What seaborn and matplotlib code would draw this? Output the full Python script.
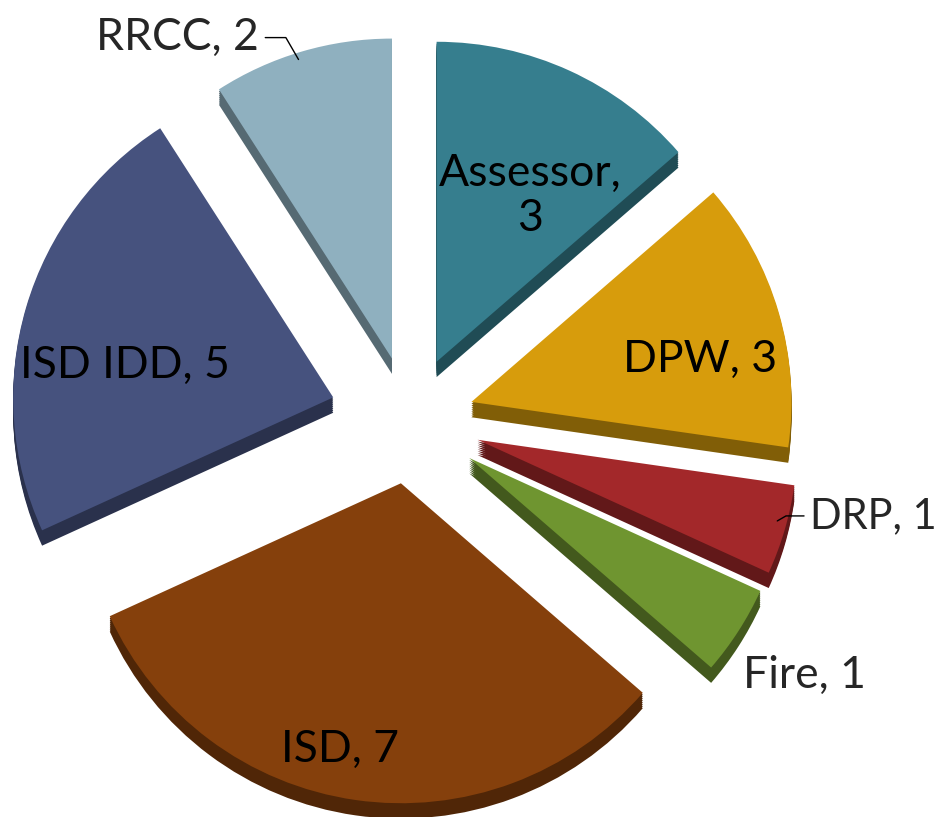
import numpy as np
import matplotlib
matplotlib.use('Agg')
import matplotlib.pyplot as plt
import matplotlib.colors as mcolors
import seaborn as sns

# Data
departments = ['Assessor', 'DPW', 'DRP', 'Fire', 'ISD', 'ISD IDD', 'RRCC']
counts = [3, 3, 1, 1, 7, 5, 2]
colors = ['#367e8e', '#d79c0c', '#a3282a', '#6f9530', '#85400c', '#46527e', '#8fb0bf']
label_text = ['Assessor,\n3', 'DPW, 3', 'DRP, 1', 'Fire, 1', 'ISD, 7', 'ISD IDD, 5', 'RRCC, 2']

sns.set_theme(style='white')
plt.rcParams['font.family'] = ['Lato', 'DejaVu Sans']

fig = plt.figure(figsize=(9.49, 8.17), dpi=100)
ax = fig.add_axes([0, 0, 1, 1])

explode = [0.2, 0.2, 0.22, 0.22, 0.2, 0.25, 0.2]

def darker(c, f=0.6):
    r, g, b = mcolors.to_rgb(c)
    return (r * f, g * f, b * f)

# side of the 3D pie: a darker copy pushed down a little
for k in range(1, 9):
    ax.pie(counts, colors=[darker(c) for c in colors], explode=explode,
           startangle=90, counterclock=False, radius=1,
           center=(0, -0.006 * k), wedgeprops=dict(linewidth=0))

wedges, _ = ax.pie(counts, colors=colors, explode=explode, startangle=90,
                   counterclock=False, radius=1,
                   wedgeprops=dict(linewidth=0))

fs = 32
# labels inside the slices
inside = {0: (0.375, 0.70), 1: (0.906, 0.19), 4: (-0.22, -1.03), 5: (-0.89, 0.17)}
for i, (x, y) in inside.items():
    ax.text(x, y, label_text[i], ha='center', va='center', fontsize=fs,
            color='black', linespacing=1.15)

# outside labels with leader lines
ax.annotate(label_text[2], xy=(1.14, -0.32), xytext=(1.25, -0.30),
            ha='left', va='center', fontsize=30,
            arrowprops=dict(arrowstyle='-', color='black', lw=1,
                            connectionstyle='angle,angleA=0,angleB=30,rad=0'))
ax.text(1.04, -0.80, label_text[3], ha='left', va='center', fontsize=fs)
ax.annotate(label_text[6], xy=(-0.344, 1.119), xytext=(-0.98, 1.195),
            ha='left', va='center', fontsize=fs,
            arrowprops=dict(arrowstyle='-', color='black', lw=1,
                            connectionstyle='angle,angleA=0,angleB=-60,rad=0'))

ax.set_xlim(-1.281, 1.684)
ax.set_ylim(-1.241, 1.3125)
ax.set_aspect('auto')
ax.axis('off')

fig.savefig('out.png', dpi=100, facecolor='white')
